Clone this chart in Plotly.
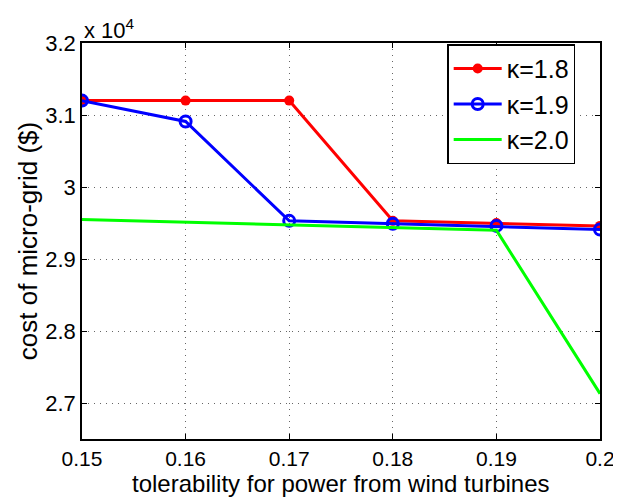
import plotly.graph_objects as go

x_vals = [0.15, 0.16, 0.17, 0.18, 0.19, 0.20]
cost_k18 = [3.120, 3.120, 3.120, 2.953, 2.950, 2.946]
cost_k19 = [3.120, 3.091, 2.953, 2.949, 2.946, 2.941]
cost_k20 = [2.955, 2.951, 2.947, 2.944, 2.940, 2.713]
x_ticks = [0.15, 0.16, 0.17, 0.18, 0.19, 0.20]
x_ticktext = ["0.15", "0.16", "0.17", "0.18", "0.19", "0.2"]
y_ticks = [2.7, 2.8, 2.9, 3.0, 3.1, 3.2]
y_ticktext = ["2.7", "2.8", "2.9", "3", "3.1", "3.2"]
x_title = "tolerability for power from wind turbines"
y_title = "cost of micro-grid ($)"

font = "Liberation Sans, Arial, sans-serif"

fig = go.Figure()
fig.add_trace(go.Scatter(x=x_vals, y=cost_k18, mode="lines+markers", name="κ=1.8",
                         legendgroup="a",
                         line=dict(color="#ff0000", width=3),
                         marker=dict(symbol="circle", size=10, color="#ff0000")))
fig.add_trace(go.Scatter(x=x_vals, y=cost_k19, mode="lines+markers", name="κ=1.9",
                         legendgroup="b",
                         line=dict(color="#0000ff", width=3),
                         marker=dict(symbol="circle-open", size=11, color="#0000ff",
                                     line=dict(width=3, color="#0000ff"))))
fig.add_trace(go.Scatter(x=x_vals, y=cost_k20, mode="lines", name="κ=2.0",
                         legendgroup="c",
                         line=dict(color="#00ff00", width=3)))

axis_common = dict(showline=True, linecolor="black", linewidth=1.5, mirror="ticks",
                   ticks="inside", ticklen=5, tickcolor="black",
                   showgrid=True, gridcolor="#666666", griddash="1px,5px", gridwidth=1,
                   zeroline=False, automargin=False)

fig.update_xaxes(range=[0.15, 0.20], tickvals=x_ticks, ticktext=x_ticktext,
                 tickfont=dict(size=21, color="black", family=font),
                 **axis_common)
fig.update_yaxes(range=[2.65, 3.2], tickvals=y_ticks, ticktext=y_ticktext,
                 tickfont=dict(size=22, color="black", family=font),
                 title=dict(text=y_title,
                            font=dict(size=26, color="black", family=font), standoff=0),
                 **axis_common)

fig.add_annotation(text=x_title, xref="paper", yref="paper", x=0.5, y=0,
                   xanchor="center", yanchor="middle", yshift=-44, showarrow=False,
                   font=dict(size=24, color="black", family=font))

fig.add_annotation(text="x 10<sup>4</sup>", xref="paper", yref="paper", x=0, y=1.0,
                   xanchor="left", yanchor="bottom", showarrow=False, yshift=-2,
                   font=dict(size=22, color="black", family=font))

# page body has an 8px default margin, so the figure is shrunk by that amount
fig.update_layout(width=613, height=494, plot_bgcolor="white", paper_bgcolor="white",
                  margin=dict(l=74, r=21, t=35, b=63),
                  font=dict(family=font, color="black"),
                  legend=dict(x=0.705, y=0.997, xanchor="left", yanchor="top",
                              bgcolor="white", bordercolor="black", borderwidth=1.5,
                              font=dict(size=25, color="black", family=font),
                              itemwidth=48,
                              traceorder="grouped", tracegroupgap=0))

fig.write_html("out.html")
